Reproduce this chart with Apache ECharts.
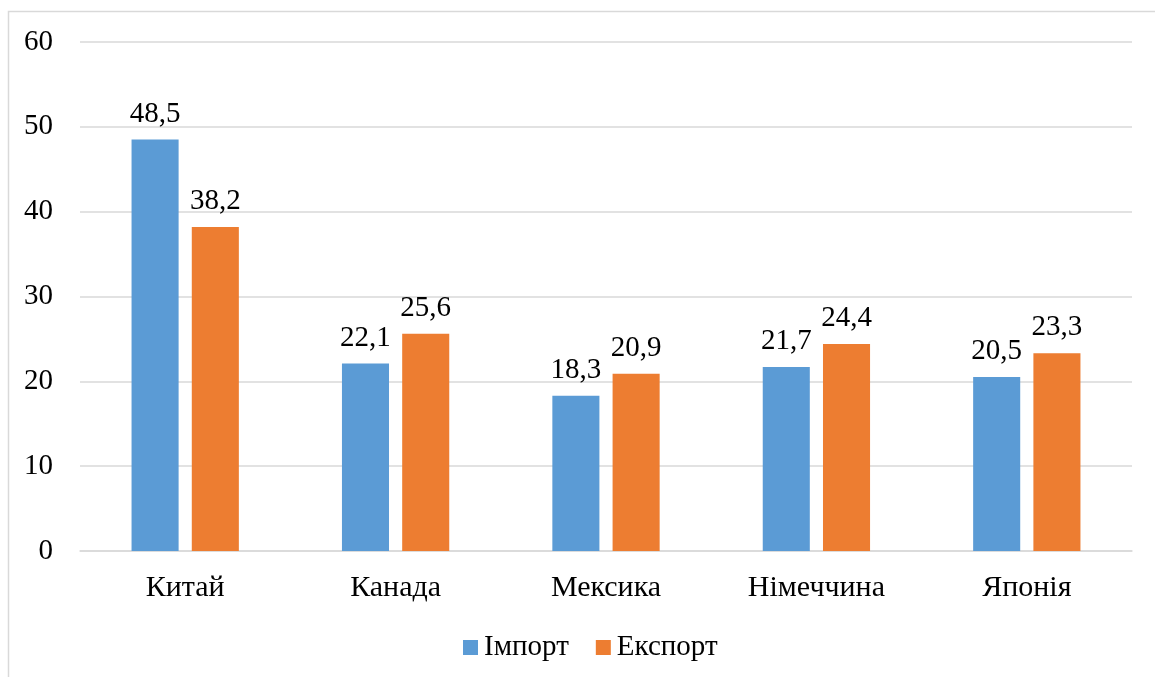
<!DOCTYPE html>
<html><head><meta charset="utf-8">
<script src="https://cdn.jsdelivr.net/npm/echarts@6/dist/echarts.min.js"></script>
<style>html,body{margin:0;padding:0;background:#fff}#c{width:1155px;height:677px}</style>
</head><body><div id="c"></div>
<script>
const categories = ['Китай','Канада','Мексика','Німеччина','Японія'];
const importValues = [48.5, 22.1, 18.3, 21.7, 20.5];
const exportValues = [38.2, 25.6, 20.9, 24.4, 23.3];
const seriesNames = ['Імпорт','Експорт'];
const font = '"Liberation Serif","Times New Roman",serif';
const chart = echarts.init(document.getElementById('c'));
const lbl = {show:true, position:'top', distance:11, fontFamily:font, fontSize:29, color:'#000',
  formatter: p => String(p.value).replace('.', ',')};
chart.setOption({
  animation:false,
  graphic:[{type:'rect', shape:{x:8.5,y:11.5,width:1200,height:700}, style:{fill:'none', stroke:'#d9d9d9', lineWidth:1.5}}],
  grid:{left:80, right:23, top:42, bottom:126},
  legend:{top:628, left:458, itemWidth:15, itemHeight:15, itemGap:27, icon:'rect',
    textStyle:{fontFamily:font, fontSize:29, color:'#000', padding:[0,0,0,1]}, data:seriesNames},
  xAxis:{type:'category', data:categories, axisTick:{show:false},
    axisLine:{lineStyle:{color:'#d9d9d9', width:1.5}},
    axisLabel:{fontFamily:font, fontSize:30, color:'#000', margin:22}},
  yAxis:{type:'value', min:0, max:60, interval:10,
    axisLabel:{fontFamily:font, fontSize:29, color:'#000', margin:27},
    splitLine:{lineStyle:{color:'#d9d9d9', width:1.5}}},
  series:[
    {name:seriesNames[0], type:'bar', data:importValues, itemStyle:{color:'#5B9BD5'}, barGap:'28%', barCategoryGap:'49%', label:lbl},
    {name:seriesNames[1], type:'bar', data:exportValues, itemStyle:{color:'#ED7D31'}, label:lbl}
  ]
});
</script></body></html>
